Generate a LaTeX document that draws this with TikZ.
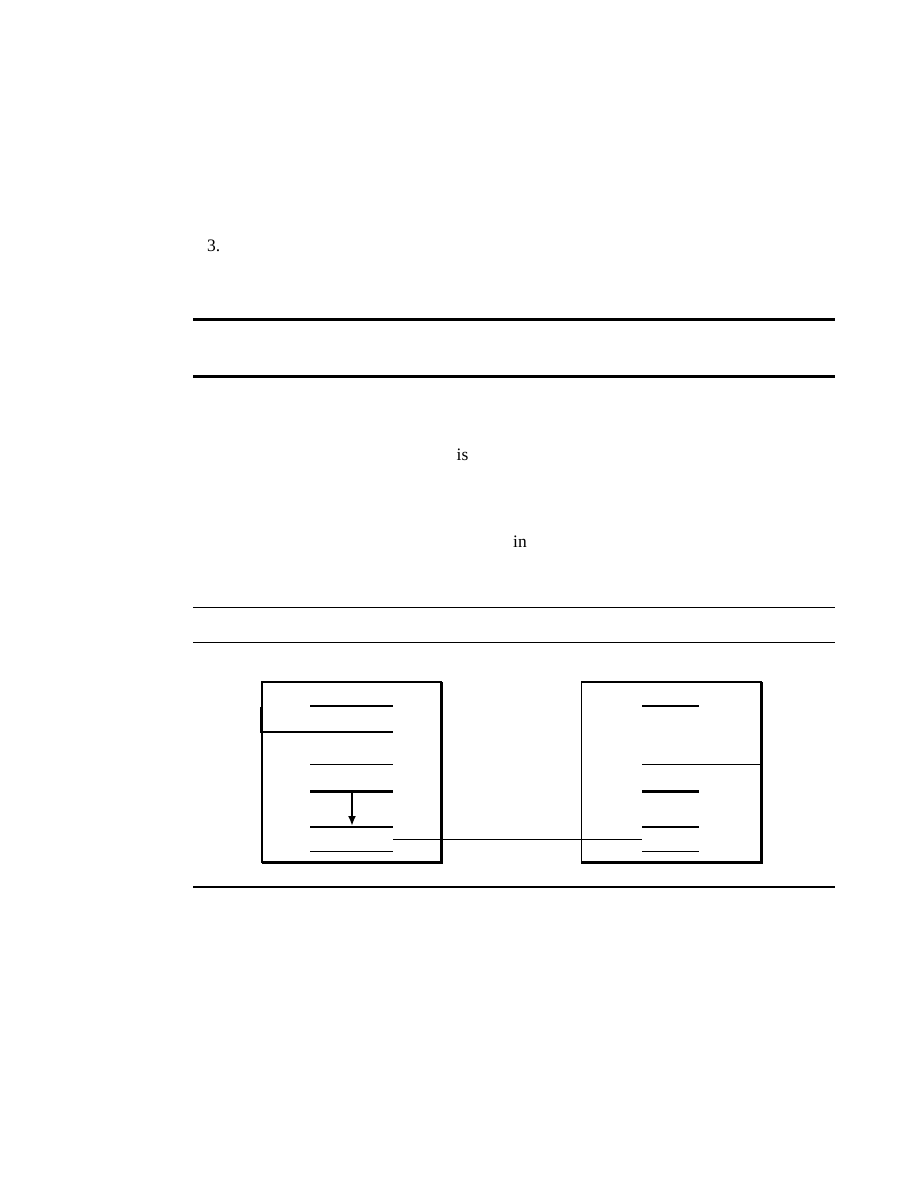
\documentclass[tikz,border=0pt]{standalone}
\usepackage{fontspec}
\setmainfont{Liberation Serif}
\usetikzlibrary{arrows.meta}
\begin{document}
\begin{tikzpicture}[x=1pt,y=-1pt,
  thinrule/.style={line width=1.1pt},
  thickrule/.style={line width=3pt},
  tick/.style={line width=1.1pt},
  heavytick/.style={line width=3pt},
  txt/.style={anchor=base west,inner sep=0pt,font=\fontsize{17.5}{20}\selectfont}]
\useasboundingbox (0,0) rectangle (918,1188);
% text
\node[txt] (n3) at (207,251) {3.};
\node[txt] (nis) at (456.5,460) {is};
\node[txt] (nin) at (513,547) {in};
% rules
\draw[thickrule] (193,319.3) -- (835,319.3);
\draw[thickrule] (193,376.3) -- (835,376.3);
\draw[thinrule] (193,607.5) -- (835,607.5);
\draw[thinrule] (193,642.3) -- (835,642.3);
\draw[thinrule] (193,887) -- (835,887);
% left box
\draw[thinrule] (262,682) rectangle (441.5,862.3);
\draw[line width=3pt] (441.5,682) -- (441.5,862.3) -- (261.5,862.3);
\draw[tick] (310,706) -- (393,706);
\draw[line width=2pt] (261.3,706.5) -- (261.3,732);
\draw[tick] (260.3,732) -- (393,732);
\draw[tick] (310,764.3) -- (393,764.3);
\draw[heavytick] (310,791.3) -- (393,791.3);
\draw[tick] (310,827) -- (393,827);
\draw[tick] (310,851.3) -- (393,851.3);
\coordinate (a1) at (352,793);
\coordinate (a2) at (352,826);
\draw[line width=2pt,-{Latex[length=10pt,width=8pt]}] (a1) -- (a2);
% right box
\draw[thinrule] (581.3,682) rectangle (761.5,862.3);
\draw[line width=3pt] (761.5,682) -- (761.5,862.3) -- (580.8,862.3);
\draw[tick] (642,706) -- (699.3,706);
\draw[tick] (642,764.3) -- (761,764.3);
\draw[heavytick] (642,791.3) -- (699.3,791.3);
\draw[tick] (642,827) -- (699.3,827);
\draw[tick] (642,851.3) -- (699.3,851.3);
% connector
\coordinate (c1) at (393.3,839.3);
\coordinate (c2) at (642,839.3);
\draw[tick] (c1) -- (c2);
\end{tikzpicture}
\end{document}
